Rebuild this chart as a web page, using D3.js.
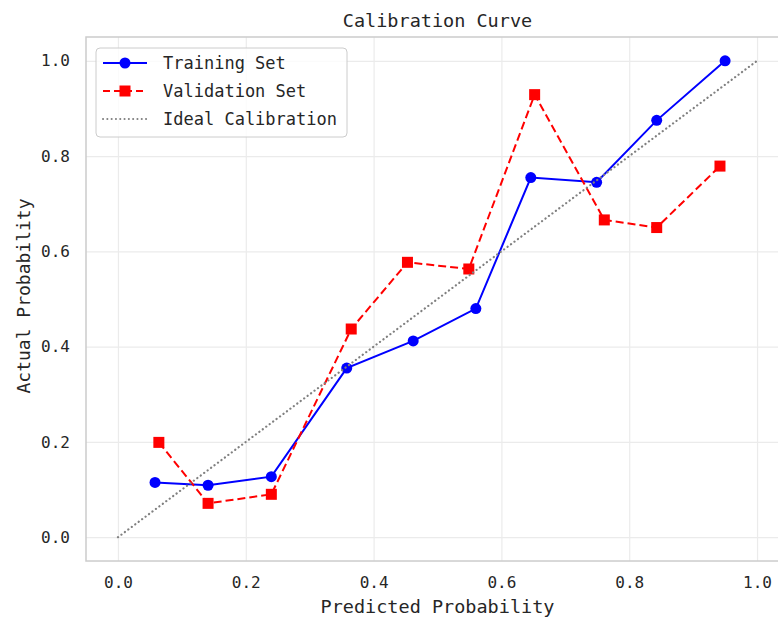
<!DOCTYPE html>
<html>
<head>
<meta charset="utf-8">
<script src="https://cdn.jsdelivr.net/npm/d3@7"></script>
<style>
  body { margin: 0; background: #fff; }
  svg { display: block; font-family: "DejaVu Sans Mono", monospace; }
</style>
</head>
<body>
<svg id="chart" width="778" height="620"></svg>
<script>
// values
const predTrain = [0.058, 0.141, 0.240, 0.358, 0.462, 0.560, 0.646, 0.749, 0.843, 0.950];
const actTrain = [0.115, 0.109, 0.127, 0.355, 0.412, 0.480, 0.755, 0.745, 0.875, 1.0];
const predVal = [0.064, 0.141, 0.240, 0.365, 0.453, 0.549, 0.652, 0.761, 0.843, 0.942];
const actVal = [0.199, 0.071, 0.090, 0.437, 0.577, 0.563, 0.929, 0.666, 0.650, 0.779];
const idealLine = [0, 1];
const tickValues = [0, 0.2, 0.4, 0.6, 0.8, 1.0];
const legendLabels = ['Training Set', 'Validation Set', 'Ideal Calibration'];

const svg = d3.select('#chart');
// axes box (right edge cropped like the original)
const axLeft = 86, axRight = 789, axTop = 37, axBottom = 561;

const x = d3.scaleLinear().domain([-0.05, 1.05]).range([axLeft, axRight]);
const y = d3.scaleLinear().domain([-0.05, 1.05]).range([axBottom, axTop]);
const fmt = d3.format('.1f');

// grid
svg.append('g')
    .attr('transform', 'translate(0,' + axBottom + ')')
    .call(d3.axisBottom(x).tickValues(tickValues).tickSize(-(axBottom - axTop)).tickFormat(''))
    .call(g => g.select('.domain').remove())
    .call(g => g.selectAll('line').attr('stroke', '#ebebeb').attr('stroke-width', 1.2));
svg.append('g')
    .attr('transform', 'translate(' + axLeft + ',0)')
    .call(d3.axisLeft(y).tickValues(tickValues).tickSize(-(axRight - axLeft)).tickFormat(''))
    .call(g => g.select('.domain').remove())
    .call(g => g.selectAll('line').attr('stroke', '#ebebeb').attr('stroke-width', 1.2));

// tick labels
svg.append('g')
    .attr('transform', 'translate(0,' + axBottom + ')')
    .call(d3.axisBottom(x).tickValues(tickValues).tickSize(0).tickPadding(16).tickFormat(fmt))
    .call(g => g.select('.domain').remove())
    .call(g => g.selectAll('text').attr('font-family', '"DejaVu Sans Mono", monospace')
        .attr('font-size', 16).attr('fill', '#262626'));
svg.append('g')
    .attr('transform', 'translate(' + axLeft + ',0)')
    .call(d3.axisLeft(y).tickValues(tickValues).tickSize(0).tickPadding(16).tickFormat(fmt))
    .call(g => g.select('.domain').remove())
    .call(g => g.selectAll('text').attr('font-family', '"DejaVu Sans Mono", monospace')
        .attr('font-size', 16).attr('fill', '#262626'));

// spines
svg.append('rect')
    .attr('x', axLeft).attr('y', axTop)
    .attr('width', axRight - axLeft).attr('height', axBottom - axTop)
    .attr('fill', 'none').attr('stroke', '#cccccc').attr('stroke-width', 1.5);

const line = d3.line().x(d => x(d[0])).y(d => y(d[1]));
const trainPts = predTrain.map((p, i) => [p, actTrain[i]]);
const valPts = predVal.map((p, i) => [p, actVal[i]]);

// training
svg.append('path').datum(trainPts).attr('d', line)
    .attr('fill', 'none').attr('stroke', '#0000ff').attr('stroke-width', 2);
svg.append('g').selectAll('circle').data(trainPts).enter().append('circle')
    .attr('cx', d => x(d[0])).attr('cy', d => y(d[1])).attr('r', 5.5).attr('fill', '#0000ff');

// validation
svg.append('path').datum(valPts).attr('d', line)
    .attr('fill', 'none').attr('stroke', '#ff0000').attr('stroke-width', 2)
    .attr('stroke-dasharray', '8,4');
svg.append('g').selectAll('rect').data(valPts).enter().append('rect')
    .attr('x', d => x(d[0]) - 5.5).attr('y', d => y(d[1]) - 5.5)
    .attr('width', 11).attr('height', 11).attr('fill', '#ff0000');

// ideal
svg.append('path').datum(idealLine.map(v => [v, v])).attr('d', line)
    .attr('fill', 'none').attr('stroke', '#808080').attr('stroke-width', 2.2)
    .attr('stroke-dasharray', '0.1,4.2').attr('stroke-linecap', 'round');

// title and axis labels
svg.append('text').attr('x', (axLeft + axRight) / 2).attr('y', 27)
    .attr('text-anchor', 'middle').attr('font-size', 18.5).attr('fill', '#262626')
    .text('Calibration Curve');
svg.append('text').attr('x', (axLeft + axRight) / 2).attr('y', 613)
    .attr('text-anchor', 'middle').attr('font-size', 18.5).attr('fill', '#262626')
    .text('Predicted Probability');
svg.append('text').attr('transform', 'translate(30,' + 296 + ') rotate(-90)')
    .attr('text-anchor', 'middle').attr('font-size', 18).attr('fill', '#262626')
    .text('Actual Probability');

// legend
const legend = svg.append('g').attr('transform', 'translate(96,48)');
legend.append('rect').attr('width', 251).attr('height', 89).attr('rx', 4)
    .attr('fill', '#fff').attr('fill-opacity', 0.8).attr('stroke', '#cccccc');
const rowY = [15, 43, 71];
const styles = [
    { color: '#0000ff', dash: null, marker: 'circle' },
    { color: '#ff0000', dash: '7,4', marker: 'square' },
    { color: '#808080', dash: '0.1,4.2', marker: null }
];
legendLabels.forEach((label, i) => {
    const row = legend.append('g').attr('transform', 'translate(0,' + rowY[i] + ')');
    row.append('line').attr('x1', 7).attr('x2', 51)
        .attr('stroke', styles[i].color).attr('stroke-width', 2)
        .attr('stroke-dasharray', styles[i].dash)
        .attr('stroke-linecap', styles[i].marker ? 'butt' : 'round');
    if (styles[i].marker === 'circle') {
        row.append('circle').attr('cx', 29).attr('r', 5.5).attr('fill', styles[i].color);
    } else if (styles[i].marker === 'square') {
        row.append('rect').attr('x', 23.5).attr('y', -5.5).attr('width', 11).attr('height', 11)
            .attr('fill', styles[i].color);
    }
    row.append('text').attr('x', 67).attr('dy', '0.35em')
        .attr('font-size', 17).attr('fill', '#262626').text(label);
});
</script>
</body>
</html>
